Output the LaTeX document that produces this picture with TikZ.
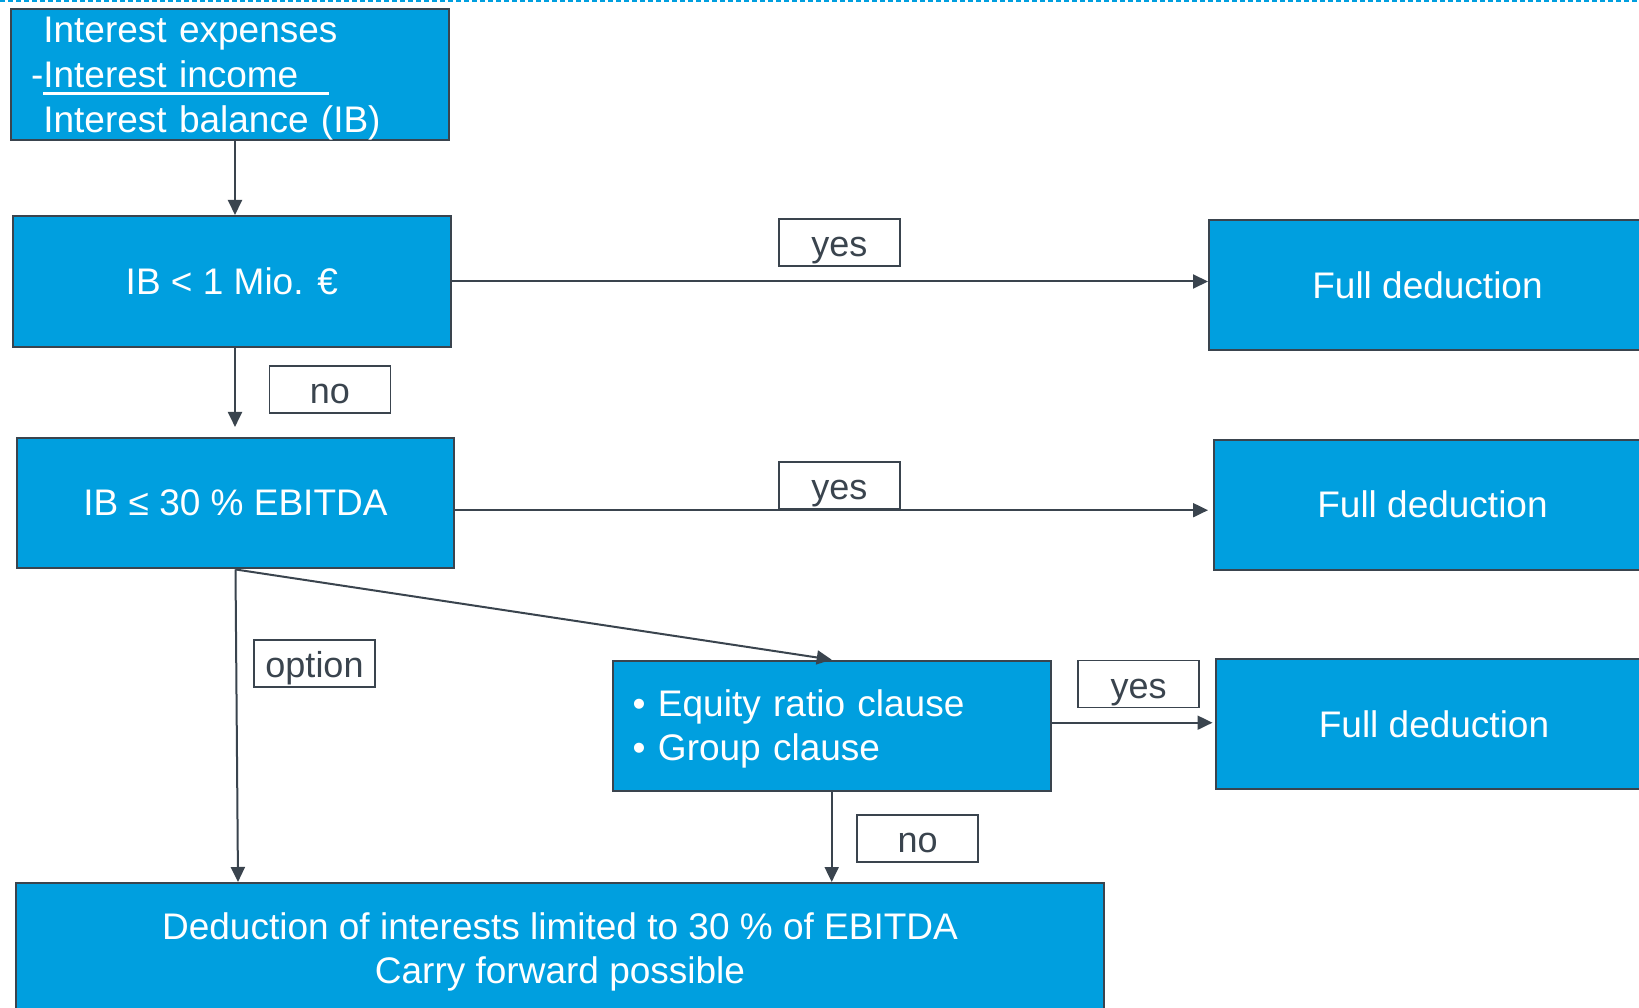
\documentclass[tikz,border=0pt]{standalone}
\usepackage{fontspec}
\setmainfont{Liberation Sans}
\usetikzlibrary{arrows.meta}
\definecolor{boxblue}{RGB}{0,159,223}
\definecolor{linegray}{RGB}{58,68,78}
\begin{document}
\begin{tikzpicture}[x=1pt,y=-1pt,
  box/.style={draw=linegray, line width=2pt, fill=boxblue, text=white,
    minimum width=437pt, minimum height=130pt, inner sep=0pt,
    font=\fontsize{37}{44}\selectfont},
  lab/.style={draw=linegray, line width=1.8pt, fill=white, text=linegray,
    minimum width=121pt, minimum height=47pt, inner sep=0pt,
    text height=31pt, text depth=3pt, font=\fontsize{36}{44}\selectfont},
  arr/.style={draw=linegray, line width=2pt, -{Triangle[length=15pt,width=14pt]}},
]
\useasboundingbox (0,0) rectangle (1639,1008);
\clip (0,0) rectangle (1639,1008);
\fill[white] (0,0) rectangle (1639,1008);
\draw[boxblue, line width=3pt, dash pattern=on 5pt off 3pt] (0,1) -- (1639,1);

% boxes
\node[box, minimum width=438pt, minimum height=131pt, text width=398pt, align=left,
  font=\fontsize{37}{45}\selectfont] (b1) at (230,74.5)
  {\rule{0pt}{34pt}\phantom{-}Interest expenses\\
   -\rlap{\rule[-7pt]{286pt}{2.5pt}}Interest income\\
   \phantom{-}Interest balance (IB)\rule[-7pt]{0pt}{7pt}};
\node[box, minimum width=438pt, minimum height=131pt] (b2) at (231.8,281.5) {IB < 1 Mio. €};
\node[box, minimum height=130.5pt] (b3) at (235.5,503.2) {IB ≤ 30 \% EBITDA};
\node[box] (fd1) at (1427.5,285.3) {Full deduction};
\node[box] (fd2) at (1432.5,504.5) {Full deduction};
\node[box] (fd3) at (1434,724.3) {Full deduction};
\node[box, minimum width=438pt, text width=398pt, align=left] (eq) at (831.7,725.7)
  {\rule{0pt}{35pt}• Equity ratio clause\\ • Group clause\rule[-9pt]{0pt}{9pt}};
\node[box, minimum width=1088pt, align=center] (bot) at (560,948)
  {\rule{0pt}{35pt}Deduction of interests limited to 30 \% of EBITDA\\
   Carry forward possible\rule[-9pt]{0pt}{9pt}};

% connectors
\draw[arr] ([xshift=5pt]b1.south) -- ([xshift=3.2pt]b2.north);
\draw[arr, shorten >=10pt] ([xshift=3.2pt]b2.south) -- ([xshift=-0.5pt]b3.north);
\draw[arr] (b2.east) -- (b2.east -| fd1.west);
\draw[arr, shorten >=5pt] ([yshift=-7pt]b3.east) -- ([yshift=-7pt]b3.east -| fd2.west);
\draw[arr] (b3.south) -- (eq.north);
\draw[arr] (b3.south) -- ([xshift=2.5pt]b3.south |- bot.north);
\draw[arr, shorten >=2pt] ([yshift=3pt]eq.east) -- ([yshift=3pt]eq.east -| fd3.west);
\draw[arr] (eq.south) -- (eq.south |- bot.north);

% labels
\node[lab] (y1) at (839.4,242.5) {yes};
\node[lab] (n1) at (330,389.5) {no};
\node[lab] (y2) at (839.3,485.5) {yes};
\node[lab] (op) at (314.5,663.3) {option};
\node[lab] (y3) at (1138.5,684) {yes};
\node[lab] (n2) at (917.7,838.4) {no};
\end{tikzpicture}
\end{document}
